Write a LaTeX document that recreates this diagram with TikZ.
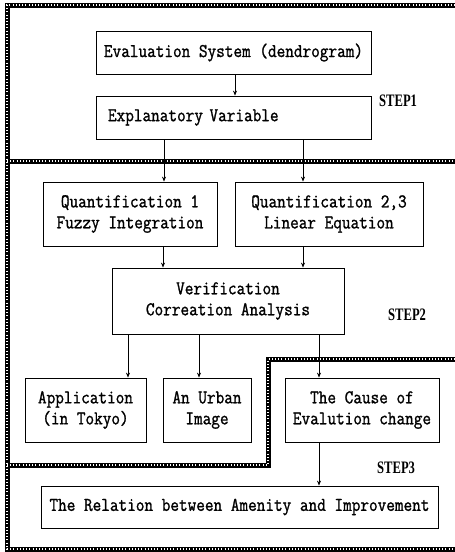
\documentclass[tikz,border=0pt]{standalone}
\usepackage{fontspec}
\newfontfamily\boxfont[FakeStretch=0.86,FakeBold=1.2]{Latin Modern Mono}
\newfontfamily\stepfont[FakeStretch=0.72]{Liberation Serif}
\usetikzlibrary{arrows.meta}
\tikzset{
  boxnode/.style={draw, line width=0.8pt, inner sep=0pt, font=\boxfont\fontsize{19.5}{21}\selectfont, align=center},
  steplabel/.style={font=\stepfont\bfseries\fontsize{17.5}{18}\selectfont, anchor=west, inner sep=0pt},
  conn/.style={draw, line width=0.7pt, -{Stealth[length=5pt,width=4pt]}},
  hatchbase/.style={line width=5pt, black, line cap=rect},
  hatchtop/.style={line width=1.6pt, white, dash pattern=on 0.8pt off 2.4pt},
}
\begin{document}
\begin{tikzpicture}[x=1pt,y=-1pt]
\useasboundingbox (0,0) rectangle (455,552);
% hatched frames
\foreach \st in {hatchbase,hatchtop}{
  \draw[\st] (455,5) -- (7,5) -- (7,549) -- (455,549);
  \draw[\st] (7,161) -- (455,161);
  \draw[\st] (455,359) -- (268,359) -- (268,465) -- (7,465);
}
% boxes
\node[boxnode, minimum width=275pt, minimum height=43pt] (eval) at (233.5,52.5) {Evaluation System (dendrogram)};
\node[boxnode, minimum width=275pt, minimum height=43pt, text width=265pt, align=left] (expl) at (233.5,117.5) {\hspace*{7pt}Explanatory Variable};
\node[boxnode, minimum width=174pt, minimum height=64pt] (q1) at (130,214) {Quantification 1\\Fuzzy Integration};
\node[boxnode, minimum width=188pt, minimum height=64pt] (q2) at (329,214) {Quantification 2,3\\Linear Equation};
\node[boxnode, minimum width=232pt, minimum height=66pt] (ver) at (228,301) {Verification\\Correation Analysis};
\node[boxnode, minimum width=121pt, minimum height=64pt] (app) at (85.5,410) {Application\\(in Tokyo)};
\node[boxnode, minimum width=88pt, minimum height=64pt] (urb) at (207,410) {An Urban\\Image};
\node[boxnode, minimum width=154pt, minimum height=64pt] (cause) at (362,410) {The Cause of\\Evalution change};
\node[boxnode, minimum width=397pt, minimum height=42pt] (rel) at (239.5,507) {The Relation between Amenity and Improvement};
% step labels
\node[steplabel] (s1) at (379,101) {STEP1};
\node[steplabel] (s2) at (388,315) {STEP2};
\node[steplabel] (s3) at (377,468) {STEP3};
% connectors
\draw[conn] (eval.south -| 235,0) -- (expl.north -| 235,0);
\draw[conn] (expl.south -| 164,0) -- (q1.north -| 164,0);
\draw[conn] (expl.south -| 303,0) -- (q2.north -| 303,0);
\draw[conn] (q1.south -| 163,0) -- (ver.north -| 163,0);
\draw[conn] (q2.south -| 303,0) -- (ver.north -| 303,0);
\draw[conn] (ver.south -| 128,0) -- (app.north -| 128,0);
\draw[conn] (ver.south -| 199,0) -- (urb.north -| 199,0);
\draw[conn] (ver.south -| 319,0) -- (cause.north -| 319,0);
\draw[conn] (cause.south -| 319,0) -- (rel.north -| 319,0);
\end{tikzpicture}
\end{document}
